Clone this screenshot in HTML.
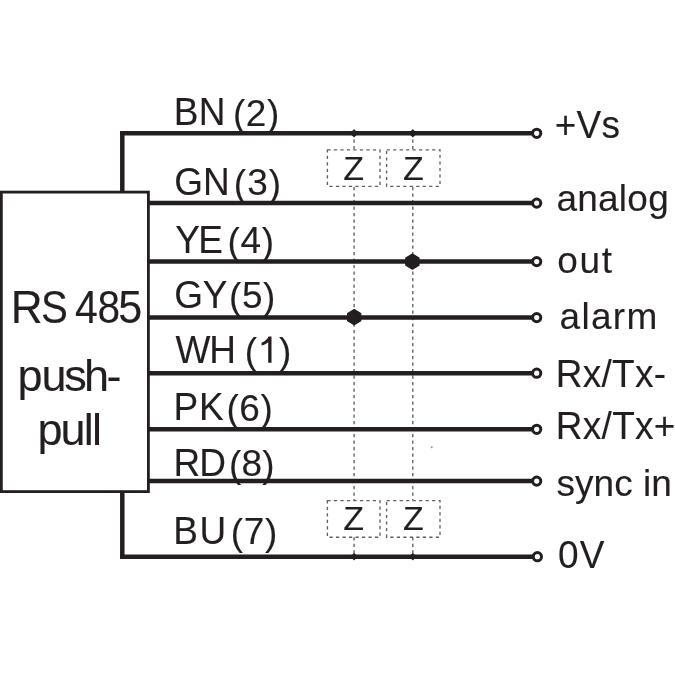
<!DOCTYPE html>
<html><head><meta charset="utf-8"><style>
html,body{margin:0;padding:0;background:#fff;}
svg{display:block;will-change:transform;}
text{font-family:"Liberation Sans",sans-serif;stroke:#231f20;stroke-width:0.1px;}
</style></head><body>
<svg width="675" height="675" viewBox="0 0 675 675">
<rect width="675" height="675" fill="#fff"/>
<line x1="354.1" y1="133.0" x2="354.1" y2="149.8" stroke="#5f6062" stroke-width="1.35" stroke-dasharray="3.2 3.3" stroke-dashoffset="0"/>
<line x1="354.1" y1="186.3" x2="354.1" y2="500.6" stroke="#5f6062" stroke-width="1.35" stroke-dasharray="3.2 3.3" stroke-dashoffset="-0.8"/>
<line x1="354.1" y1="537.2" x2="354.1" y2="556.7" stroke="#5f6062" stroke-width="1.35" stroke-dasharray="3.2 3.3" stroke-dashoffset="0"/>
<line x1="412.8" y1="133.0" x2="412.8" y2="149.8" stroke="#5f6062" stroke-width="1.35" stroke-dasharray="3.2 3.3" stroke-dashoffset="0"/>
<line x1="412.8" y1="186.3" x2="412.8" y2="500.6" stroke="#5f6062" stroke-width="1.35" stroke-dasharray="3.2 3.3" stroke-dashoffset="-0.8"/>
<line x1="412.8" y1="537.2" x2="412.8" y2="556.7" stroke="#5f6062" stroke-width="1.35" stroke-dasharray="3.2 3.3" stroke-dashoffset="0"/>
<rect x="327.4" y="149.8" width="52.60" height="36.50" fill="none" stroke="#5f6062" stroke-width="1.35" stroke-dasharray="3.2 3.3"/>
<text transform="translate(343.29 179.60) scale(1 1.000)" font-size="34" fill="#231f20">Z</text>
<rect x="327.4" y="500.6" width="52.60" height="36.60" fill="none" stroke="#5f6062" stroke-width="1.35" stroke-dasharray="3.2 3.3"/>
<text transform="translate(343.29 530.40) scale(1 1.000)" font-size="34" fill="#231f20">Z</text>
<rect x="386.6" y="149.8" width="53.40" height="36.50" fill="none" stroke="#5f6062" stroke-width="1.35" stroke-dasharray="3.2 3.3"/>
<text transform="translate(402.89 179.60) scale(1 1.000)" font-size="34" fill="#231f20">Z</text>
<rect x="386.6" y="500.6" width="53.40" height="36.60" fill="none" stroke="#5f6062" stroke-width="1.35" stroke-dasharray="3.2 3.3"/>
<text transform="translate(402.89 530.40) scale(1 1.000)" font-size="34" fill="#231f20">Z</text>
<rect x="1.35" y="192.1" width="147.05" height="299.5" fill="none" stroke="#231f20" stroke-width="2.8"/>
<line x1="122.3" y1="131" x2="122.3" y2="192" stroke="#231f20" stroke-width="4.5"/>
<line x1="122.3" y1="492" x2="122.3" y2="559" stroke="#231f20" stroke-width="4.5"/>
<line x1="120.05" y1="133.3" x2="532.7" y2="133.3" stroke="#231f20" stroke-width="4.5"/>
<circle cx="536.7" cy="133.3" r="4.1" fill="#fff" stroke="#231f20" stroke-width="3.0"/>
<line x1="148" y1="203.1" x2="532.7" y2="203.1" stroke="#231f20" stroke-width="4.5"/>
<circle cx="536.7" cy="203.1" r="4.1" fill="#fff" stroke="#231f20" stroke-width="3.0"/>
<line x1="148" y1="261.6" x2="532.7" y2="261.6" stroke="#231f20" stroke-width="4.5"/>
<circle cx="536.7" cy="261.6" r="4.1" fill="#fff" stroke="#231f20" stroke-width="3.0"/>
<line x1="148" y1="317.6" x2="532.7" y2="317.6" stroke="#231f20" stroke-width="4.5"/>
<circle cx="536.7" cy="317.6" r="4.1" fill="#fff" stroke="#231f20" stroke-width="3.0"/>
<line x1="148" y1="373.2" x2="532.7" y2="373.2" stroke="#231f20" stroke-width="4.5"/>
<circle cx="536.7" cy="373.2" r="4.1" fill="#fff" stroke="#231f20" stroke-width="3.0"/>
<line x1="148" y1="429.3" x2="532.7" y2="429.3" stroke="#231f20" stroke-width="4.5"/>
<circle cx="536.7" cy="429.3" r="4.1" fill="#fff" stroke="#231f20" stroke-width="3.0"/>
<line x1="148" y1="481.1" x2="532.7" y2="481.1" stroke="#231f20" stroke-width="4.5"/>
<circle cx="536.7" cy="481.1" r="4.1" fill="#fff" stroke="#231f20" stroke-width="3.0"/>
<line x1="120.05" y1="556.7" x2="533.4" y2="556.7" stroke="#231f20" stroke-width="4.5"/>
<circle cx="537.4" cy="556.7" r="4.1" fill="#fff" stroke="#231f20" stroke-width="3.0"/>
<polygon points="354.10,129.90 356.50,132.30 356.50,134.30 354.10,136.70 351.70,134.30 351.70,132.30" fill="#231f20" stroke="#231f20" stroke-width="1.2" stroke-linejoin="round"/>
<polygon points="354.10,553.70 356.10,555.90 356.10,557.50 354.10,559.70 352.10,557.50 352.10,555.90" fill="#231f20" stroke="#231f20" stroke-width="1.2" stroke-linejoin="round"/>
<polygon points="412.80,129.90 415.20,132.30 415.20,134.30 412.80,136.70 410.40,134.30 410.40,132.30" fill="#231f20" stroke="#231f20" stroke-width="1.2" stroke-linejoin="round"/>
<polygon points="412.80,553.70 414.80,555.90 414.80,557.50 412.80,559.70 410.80,557.50 410.80,555.90" fill="#231f20" stroke="#231f20" stroke-width="1.2" stroke-linejoin="round"/>
<circle cx="431.7" cy="447.3" r="1.0" fill="#9a9a9a"/>
<polygon points="412.40,254.00 419.00,258.00 419.00,265.20 412.40,269.20 405.80,265.20 405.80,258.00" fill="#231f20" stroke="#231f20" stroke-width="1.2" stroke-linejoin="round"/>
<polygon points="354.20,309.60 360.80,313.60 360.80,320.80 354.20,324.80 347.60,320.80 347.60,313.60" fill="#231f20" stroke="#231f20" stroke-width="1.2" stroke-linejoin="round"/>
<text transform="translate(173.85 125.30) scale(1 1.040)" font-size="37" textLength="51.57" lengthAdjust="spacing" fill="#231f20">BN</text>
<text transform="translate(0 126.20) scale(1 1.023)" x="232.89 267.01" y="0" font-size="37" fill="#231f20">()</text>
<text transform="translate(0 125.50) scale(1 1.020)" x="245.83" y="0" font-size="37" fill="#231f20">2</text>
<text transform="translate(174.35 195.00) scale(1 1.040)" font-size="37" textLength="55.30" lengthAdjust="spacing" fill="#231f20">GN</text>
<text transform="translate(0 195.90) scale(1 1.023)" x="233.79 268.81" y="0" font-size="37" fill="#231f20">()</text>
<text transform="translate(0 195.20) scale(1 1.020)" x="247.28" y="0" font-size="37" fill="#231f20">3</text>
<text transform="translate(175.17 252.60) scale(1 1.040)" font-size="37" textLength="47.87" lengthAdjust="spacing" fill="#231f20">YE</text>
<text transform="translate(0 253.50) scale(1 1.023)" x="227.59 261.71" y="0" font-size="37" fill="#231f20">()</text>
<text transform="translate(0 252.80) scale(1 1.020)" x="240.62" y="0" font-size="37" fill="#231f20">4</text>
<text transform="translate(174.35 307.90) scale(1 1.040)" font-size="37" textLength="53.08" lengthAdjust="spacing" fill="#231f20">GY</text>
<text transform="translate(0 308.80) scale(1 1.023)" x="228.99 263.11" y="0" font-size="37" fill="#231f20">()</text>
<text transform="translate(0 308.10) scale(1 1.020)" x="241.93" y="0" font-size="37" fill="#231f20">5</text>
<text transform="translate(175.41 362.60) scale(1 1.040)" font-size="37" textLength="60.48" lengthAdjust="spacing" fill="#231f20">WH</text>
<text transform="translate(0 363.50) scale(1 1.023)" x="244.69 279.01" y="0" font-size="37" fill="#231f20">()</text>
<path d="M268.2 336.4 L271.5 336.4 L271.5 362.8 L268.2 362.8 L268.2 342.2 C266.6 343.6 264 345 261.6 345.6 L261.6 342.6 C264.6 341.4 267.4 339.4 268.6 336.4 Z" fill="#231f20"/>
<text transform="translate(173.45 420.30) scale(1 1.040)" font-size="37" textLength="50.28" lengthAdjust="spacing" fill="#231f20">PK</text>
<text transform="translate(0 421.20) scale(1 1.023)" x="226.39 260.41" y="0" font-size="37" fill="#231f20">()</text>
<text transform="translate(0 420.50) scale(1 1.020)" x="239.14" y="0" font-size="37" fill="#231f20">6</text>
<text transform="translate(173.45 475.60) scale(1 1.040)" font-size="37" textLength="52.49" lengthAdjust="spacing" fill="#231f20">RD</text>
<text transform="translate(0 476.50) scale(1 1.023)" x="228.99 262.21" y="0" font-size="37" fill="#231f20">()</text>
<text transform="translate(0 475.80) scale(1 1.020)" x="241.48" y="0" font-size="37" fill="#231f20">8</text>
<text transform="translate(173.15 544.00) scale(1 1.040)" font-size="37" textLength="52.99" lengthAdjust="spacing" fill="#231f20">BU</text>
<text transform="translate(0 544.90) scale(1 1.023)" x="230.79 264.91" y="0" font-size="37" fill="#231f20">()</text>
<text transform="translate(0 544.20) scale(1 1.020)" x="243.69" y="0" font-size="37" fill="#231f20">7</text>
<text transform="translate(554.65 137.60) scale(1 1.045)" font-size="37" textLength="65.38" lengthAdjust="spacing" fill="#231f20">+Vs</text>
<text transform="translate(556.43 211.10) scale(1 1.000)" font-size="37" textLength="112.31" lengthAdjust="spacing" fill="#231f20">analog</text>
<text transform="translate(557.23 272.60) scale(1 1.000)" font-size="37" textLength="54.76" lengthAdjust="spacing" fill="#231f20">out</text>
<text transform="translate(559.53 329.10) scale(1 1.010)" font-size="37" textLength="97.70" lengthAdjust="spacing" fill="#231f20">alarm</text>
<text transform="translate(555.75 387.00) scale(1 1.040)" font-size="37" textLength="110.37" lengthAdjust="spacing" fill="#231f20">Rx/Tx-</text>
<text transform="translate(555.75 439.00) scale(1 1.040)" font-size="37" textLength="119.70" lengthAdjust="spacing" fill="#231f20">Rx/Tx+</text>
<text transform="translate(556.58 496.10) scale(1 1.000)" font-size="37" textLength="115.31" lengthAdjust="spacing" fill="#231f20">sync in</text>
<text transform="translate(558.02 568.00) scale(1 1.060)" font-size="37" textLength="46.49" lengthAdjust="spacing" fill="#231f20">0V</text>
<text transform="translate(14.50 323.40) scale(0.9827 1.0450) translate(-3.71 0)" font-size="45" fill="#231f20">R</text>
<text transform="translate(42.70 323.40) scale(0.8928 1.0450) translate(-2.02 0)" font-size="45" fill="#231f20">S</text>
<text transform="translate(75.90 323.40) scale(0.9109 1.0450) translate(-1.01 0)" font-size="45" fill="#231f20">4</text>
<text transform="translate(99.20 323.40) scale(0.9031 1.0450) translate(-1.91 0)" font-size="45" fill="#231f20">8</text>
<text transform="translate(120.10 323.40) scale(0.9591 1.0450) translate(-1.80 0)" font-size="45" fill="#231f20">5</text>
<text transform="translate(0 390.60) scale(1 1.000)" x="17.57 41.38 64.26 84.05 106.57" y="0" font-size="45" fill="#231f20">push-</text>
<text transform="translate(0 445.00) scale(1 1.000)" x="37.48 60.58 83.86 92.06" y="0" font-size="45" fill="#231f20">pull</text>
</svg>
</body></html>
